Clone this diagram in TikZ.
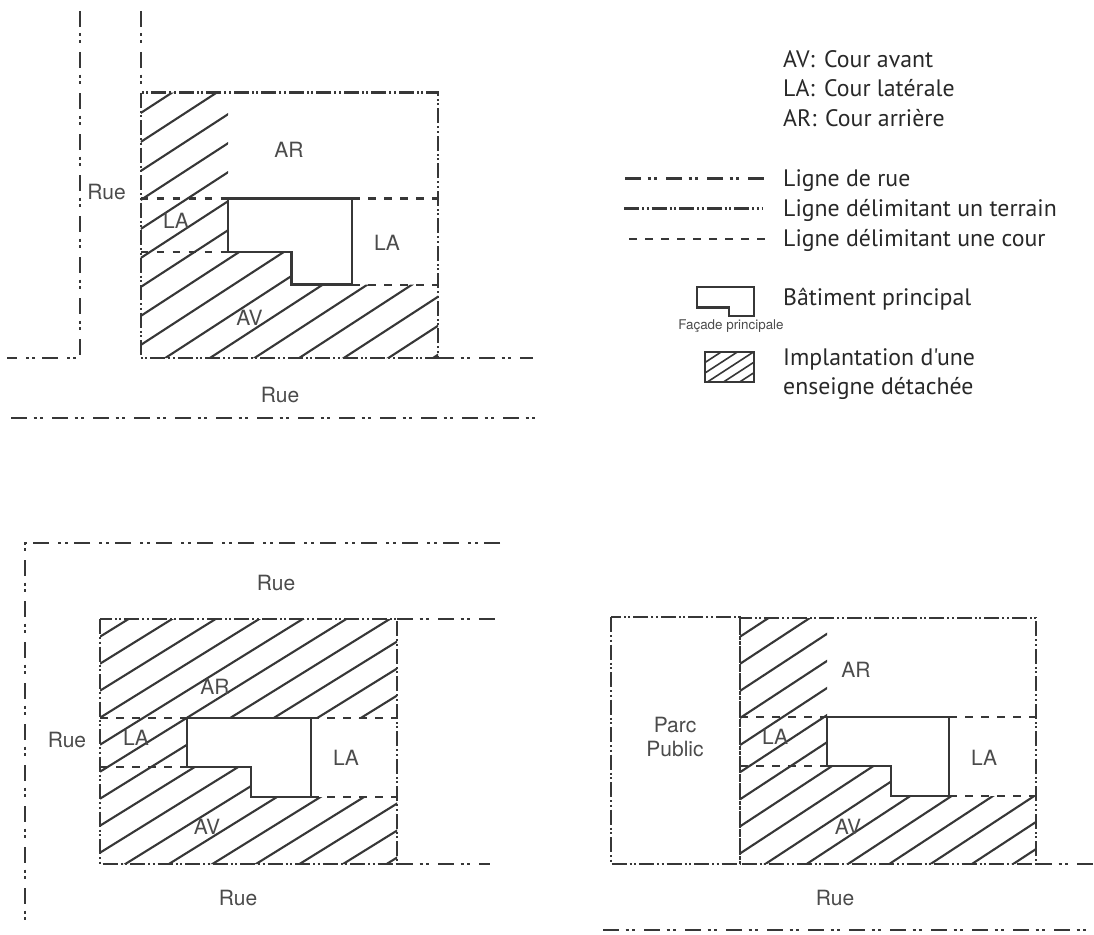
\documentclass[tikz,border=0pt]{standalone}
\usepackage{fontspec}
\setmainfont{PT Sans}[Ligatures=TeXOff]
\newfontfamily\helv{TeX Gyre Heros}
\definecolor{trait}{RGB}{55,55,55}
\definecolor{texte}{RGB}{75,75,75}
\definecolor{legende}{RGB}{40,40,40}
\tikzset{
  rue/.style = {draw=trait, line width=2.4pt,
    dash pattern=on 16pt off 6.5pt on 3pt off 3.5pt on 3pt off 9pt},% ligne de rue
  terrain/.style = {draw=trait, line width=2.3pt,
    dash pattern=on 15pt off 3pt on 2pt off 2.5pt on 2pt off 3pt},% ligne de terrain
  cour/.style = {draw=trait, line width=2.1pt, dash pattern=on 7.5pt off 8.5pt},% ligne de cour
  batiment/.style = {draw=trait, line width=2.5pt, fill=white},
  hachure/.style = {draw=trait, line width=2.1pt},
  zone/.style = {font=\helv\fontsize{21}{24}\selectfont, text=texte, inner sep=0pt,
    align=center},
  legende/.style = {font=\fontsize{23.8}{28}\selectfont, text=legende, inner sep=0pt,
    anchor=base west},
}

\begin{document}
\begin{tikzpicture}[x=1pt,y=-1pt]
  \useasboundingbox (0,0) rectangle (1094,934);

  %   terrain en haut a gauche
  \begin{scope}
    \clip (140.7,92.6) -- (228,92.6) -- (228,252) -- (291.5,252) -- (291.5,284.6)
      -- (438,284.6) -- (438,358) -- (140.7,358) -- cycle;
    \foreach \k in {0,...,16}
      \draw[hachure] (140.7,{113+29*\k}) -- ++(400,-260);
  \end{scope}
  \draw[rue] (79.7,11) -- (79.7,358) -- (7,358);
  \draw[rue] (140.7,11) -- (140.7,92.6);
  \draw[rue] (438,358) -- (533,358);
  \draw[rue] (11,418) -- (535,418);
  \draw[cour] (140.7,198.5) -- (228,198.5);
  \draw[cour] (352,198.5) -- (438,198.5);
  \draw[cour] (140.7,252) -- (228,252);
  \draw[cour] (352,284.6) -- (438,284.6);
  \draw[terrain] (140.7,92.6) rectangle (438,358);
  \draw[batiment] (228,198.5) -- (352,198.5) -- (352,284.6) -- (291.5,284.6)
    -- (291.5,252) -- (228,252) -- cycle;
  \node[zone] (ar1) at (289,150) {AR};
  \node[zone] (lag1) at (176,221) {LA};
  \node[zone] (lad1) at (387,243) {LA};
  \node[zone] (av1) at (249.5,318) {AV};
  \node[zone] (rueg1) at (106.6,192.4) {Rue};
  \node[zone] (rueb1) at (280,394.5) {Rue};

  %   terrain en bas a gauche
  \begin{scope}
    \clip (100,619) -- (397,619) -- (397,718) -- (187,718) -- (187,767) -- (251,767)
      -- (251,797) -- (397,797) -- (397,864) -- (100,864) -- cycle;
    \foreach \k in {0,...,16}
      \draw[hachure] (100,{636.7+27*\k}) -- ++(400,-248);
  \end{scope}
  \draw[rue] (500,543) -- (25,543) -- (25,928);
  \draw[rue] (397,619) -- (497,619);
  \draw[rue] (397,864) -- (490,864);
  \draw[cour] (100,718) -- (187,718);
  \draw[cour] (311,718) -- (397,718);
  \draw[cour] (100,767) -- (187,767);
  \draw[cour] (311,797) -- (397,797);
  \draw[terrain] (100,619) rectangle (397,864);
  \draw[batiment] (187,718) -- (311,718) -- (311,797) -- (251,797)
    -- (251,767) -- (187,767) -- cycle;
  \node[zone] (ruet2) at (276,583) {Rue};
  \node[zone] (rueg2) at (67,740) {Rue};
  \node[zone] (rueb2) at (238,898) {Rue};
  \node[zone] (ar2) at (215,687) {AR};
  \node[zone] (lag2) at (136,738) {LA};
  \node[zone] (lad2) at (346,758) {LA};
  \node[zone] (av2) at (207,827) {AV};

  %   terrain en bas a droite
  \begin{scope}
    \clip (740,618) -- (827,618) -- (827,766) -- (891,766) -- (891,796)
      -- (1036,796) -- (1036,864) -- (740,864) -- cycle;
    \foreach \k in {0,...,16}
      \draw[hachure] (740,{636.7+27.1*\k}) -- ++(400,-262.4);
  \end{scope}
  \draw[rue] (1036,864) -- (1094,864);
  \draw[rue] (603,930) -- (1094,930);
  \draw[cour] (740,717) -- (827,717);
  \draw[cour] (949,717) -- (1036,717);
  \draw[cour] (740,766) -- (827,766);
  \draw[cour] (949,796) -- (1036,796);
  \draw[terrain] (611,617) rectangle (740,864);
  \draw[terrain] (740,618) rectangle (1036,864);
  \draw[batiment] (827,717) -- (949,717) -- (949,796) -- (891,796)
    -- (891,766) -- (827,766) -- cycle;
  \node[zone] (parc) at (675,737) {Parc\\Public};
  \node[zone] (ar3) at (856,670) {AR};
  \node[zone] (lag3) at (775,737) {LA};
  \node[zone] (lad3) at (984,758) {LA};
  \node[zone] (av3) at (848,827) {AV};
  \node[zone] (rueb3) at (835,898) {Rue};

  %   legende
  \node[legende] (leg-av) at (783,67.3) {\makebox[41pt][l]{AV:}Cour avant};
  \node[legende] (leg-la) at (783,96.7) {\makebox[41pt][l]{LA:}Cour latérale};
  \node[legende] (leg-ar) at (783,126.7) {\makebox[42pt][l]{AR:}Cour arrière};
  \draw[rue] (625,178.5) -- (765,178.5);
  \draw[terrain] (624,208.5) -- (763,208.5);
  \draw[cour] (629,239) -- (767,239);
  \node[legende] (leg-rue) at (783,186.7) {Ligne de rue};
  \node[legende] (leg-terrain) at (783,216.7) {Ligne délimitant un terrain};
  \node[legende] (leg-cour) at (783,246) {Ligne délimitant une cour};
  \draw[batiment] (697,287) -- (754,287) -- (754,316) -- (729,316) -- (729,307.5)
    -- (697,307.5) -- cycle;
  \node[font=\helv\fontsize{13.4}{15}\selectfont, text=texte, inner sep=0pt]
    (facade) at (731,326) {Façade principale};
  \node[legende] (leg-bat) at (783,305.7) {Bâtiment principal};
  \begin{scope}
    \clip (705,352) rectangle (754,382);
    \foreach \k in {0,...,7}
      \draw[hachure, line width=1.6pt] (705,{352+10.5*\k}) -- ++(80,-52);
  \end{scope}
  \draw[batiment, fill=none] (705,352) rectangle (754,382);
  \node[legende] (leg-ens1) at (783,365) {Implantation d'une};
  \node[legende] (leg-ens2) at (783,394) {enseigne détachée};
\end{tikzpicture}
\end{document}
